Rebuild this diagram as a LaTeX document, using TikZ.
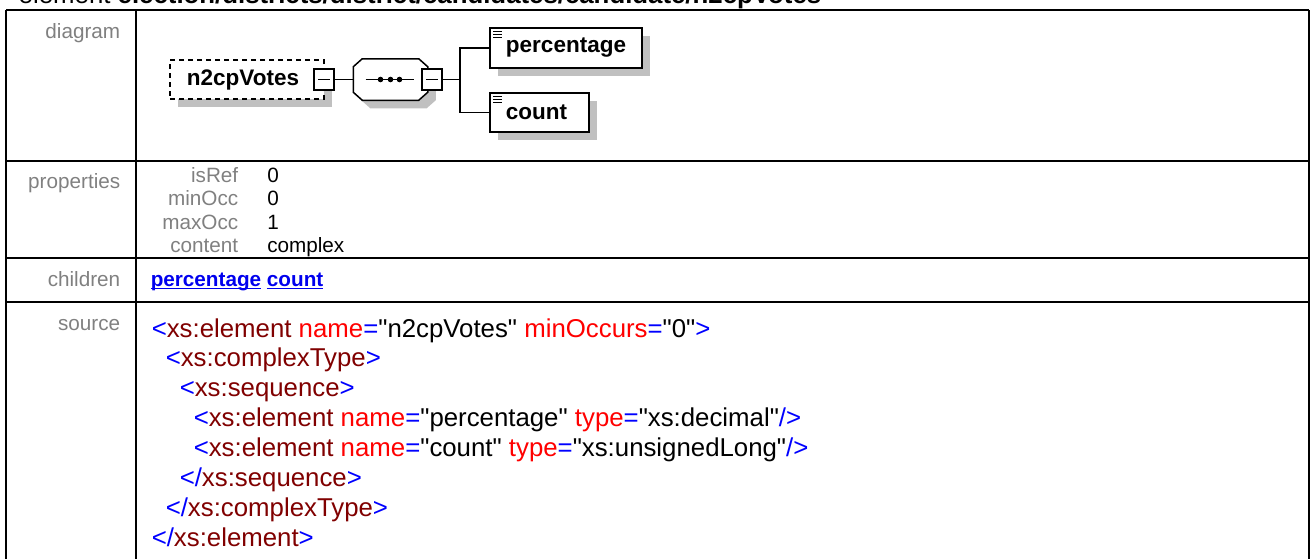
\documentclass[tikz,border=0pt]{standalone}
\usepackage{fontspec}
\setmainfont{Liberation Sans}
\newfontfamily\xmlfont{Liberation Sans}
\usetikzlibrary{backgrounds,calc,shadows}

\definecolor{labelgrey}{RGB}{128,128,128}
\definecolor{tagblue}{RGB}{0,0,255}
\definecolor{tagname}{RGB}{128,0,0}
\definecolor{attname}{RGB}{255,0,0}
\definecolor{linkblue}{RGB}{0,0,238}
\definecolor{shadowgrey}{RGB}{192,192,192}

\newcommand{\srcsize}{\xmlfont\fontsize{25.8}{29.86}\selectfont}
\newcommand{\lblsize}{\fontsize{20.7}{24}\selectfont}
\newcommand{\boxsize}{\fontsize{22.5}{27}\selectfont\bfseries}
\newcommand{\opentag}[1]{\textcolor{tagblue}{<}\textcolor{tagname}{#1}}
\newcommand{\closetag}[1]{\textcolor{tagblue}{</}\textcolor{tagname}{#1}\textcolor{tagblue}{>}}
\newcommand{\attr}[2]{\space\textcolor{attname}{#1}\textcolor{tagblue}{=}"#2"}
\newcommand{\tagend}{\textcolor{tagblue}{>}}
\newcommand{\emptyend}{\textcolor{tagblue}{/>}}

\begin{document}
\begin{tikzpicture}[x=1pt,y=-1pt,line width=1.5pt]
    % `rowname' is used for the grey labels in the left column.
    % `propkey' and `propval' are the cells of the properties matrix.
    % `elembox' is used for the element boxes, `minusbox' for the small collapse boxes.
    \tikzstyle{rowname} = [anchor=base east,inner sep=0pt,text=labelgrey,font=\lblsize]
    \tikzstyle{propkey} = [anchor=base east,inner sep=0pt,text=labelgrey,font=\lblsize,text height=15pt,text depth=4.5pt]
    \tikzstyle{propval} = [anchor=base west,inner sep=0pt,font=\lblsize,text height=15pt,text depth=4.5pt]
    \tikzstyle{srcline} = [anchor=base west,inner sep=0pt,font=\srcsize]
    \tikzstyle{shadowed} = [drop shadow={shadow xshift=8pt,shadow yshift=-8pt,fill=shadowgrey,opacity=1}]
    \tikzstyle{elembox} = [draw,fill=white,font=\boxsize,shadowed,inner sep=0pt,
        path picture={\draw[line width=1pt] ([shift={(3pt,-3pt)}]path picture bounding box.north west) -- +(9pt,0pt)
            ++(0pt,-3pt) -- +(9pt,0pt) ++(0pt,-3pt) -- +(9pt,0pt);}]
    \tikzstyle{minusbox} = [draw,fill=white,minimum width=20pt,minimum height=21pt,inner sep=0pt,
        path picture={\draw ([xshift=4pt]path picture bounding box.west) -- ([xshift=-4pt]path picture bounding box.east);}]
    \tikzstyle{tablerule} = [line width=2.5pt]
    %
    \useasboundingbox (0,0) rectangle (1310,558);
    \node[anchor=base west,inner sep=0pt,font=\srcsize] (title) at (18,3)
        {element \textbf{election/districts/district/candidates/candidate/n2cpVotes}};
    %
    % Left column.
    \node[rowname] (diagram) at (121,38) {diagram};
    \node[rowname] (properties) at (121,188.5) {properties};
    \node[rowname] (children) at (121,286.7) {children};
    \node[rowname] (source) at (121,330.5) {source};
    %
    % Diagram.
    \node[draw,fill=white,dash pattern=on 5pt off 4pt,shadowed,font=\boxsize,
          minimum width=154pt,minimum height=39pt] (votes) at (247,79.5) {n2cpVotes\hspace*{8pt}};
    \node[minusbox] (votesmin) at (324,79.5) {};
    \node[minimum width=73pt,minimum height=40pt,inner sep=0pt] (seq) at (390.5,79.5) {};
    \draw[fill=white,shadowed]
        ($(seq.north west)+(9,0)$) -- ($(seq.north east)+(-9,0)$) -- ($(seq.north east)+(0,8)$)
        -- ($(seq.south east)+(0,-8)$) -- ($(seq.south east)+(-9,0)$) -- ($(seq.south west)+(9,0)$)
        -- ($(seq.south west)+(0,-8)$) -- ($(seq.north west)+(0,8)$) -- cycle;
    \draw ($(seq.center)+(-25,0)$) -- ($(seq.center)+(23,0)$);
    \fill ($(seq.center)+(-10,0)$) circle (2.8) (seq.center) circle (2.8) ($(seq.center)+(9,0)$) circle (2.8);
    \node[minusbox] (seqmin) at (432,79.5) {};
    \node[elembox,minimum width=152pt,minimum height=40pt] (pct) at (566,48) {\raisebox{-1pt}{percentage}};
    \node[elembox,minimum width=99pt,minimum height=39pt] (cnt) at (539.5,112.5) {\raisebox{-1pt}{count}\hspace*{6pt}};
    \coordinate (fork) at (460,79.5);
    \draw (votesmin) -- (seq)
          (seqmin) -- (fork)
          (fork) |- (pct)
          (fork) |- (cnt);
    %
    % Properties.
    \matrix[matrix anchor=isref.base east,row sep=4pt,column sep=29pt] (props) at (239,182) {
      \node[propkey] (isref) {isRef}; & \node[propval] (isrefval) {0}; \\
      \node[propkey] (minocc) {minOcc}; & \node[propval] (minoccval) {0}; \\
      \node[propkey] (maxocc) {maxOcc}; & \node[propval] (maxoccval) {1}; \\
      \node[propkey] (content) {content}; & \node[propval] (contentval) {complex}; \\
    };
    %
    % Children links.
    \node[anchor=base west,inner sep=0pt,font=\lblsize\bfseries,text=linkblue] (links) at (150,286.7)
        {\underline{\smash{percentage}} \underline{\smash{count}}};
    %
    % Source.
    \node[srcline] (src1) at (151,337) {\opentag{xs:element}\attr{name}{n2cpVotes}\attr{minOccurs}{0}\tagend};
    \node[srcline] (src2) at (165,366.9) {\opentag{xs:complexType}\tagend};
    \node[srcline] (src3) at (179,396.7) {\opentag{xs:sequence}\tagend};
    \node[srcline] (src4) at (193,426.6) {\opentag{xs:element}\attr{name}{percentage}\attr{type}{xs:decimal}\emptyend};
    \node[srcline] (src5) at (193,456.4) {\opentag{xs:element}\attr{name}{count}\attr{type}{xs:unsignedLong}\emptyend};
    \node[srcline] (src6) at (179,486.3) {\closetag{xs:sequence}};
    \node[srcline] (src7) at (165,516.2) {\closetag{xs:complexType}};
    \node[srcline] (src8) at (151,546) {\closetag{xs:element}};
    %
    \begin{pgfonlayer}{background}
        % Draw table rules.
        \draw[tablerule] (6,10) -- (1309,10)   (6,161) -- (1309,161)
                         (6,258) -- (1309,258) (6,302) -- (1309,302)
                         (6,10) -- (6,570)     (136,10) -- (136,570)
                         (1309,10) -- (1309,570);
    \end{pgfonlayer}
\end{tikzpicture}
\end{document}
